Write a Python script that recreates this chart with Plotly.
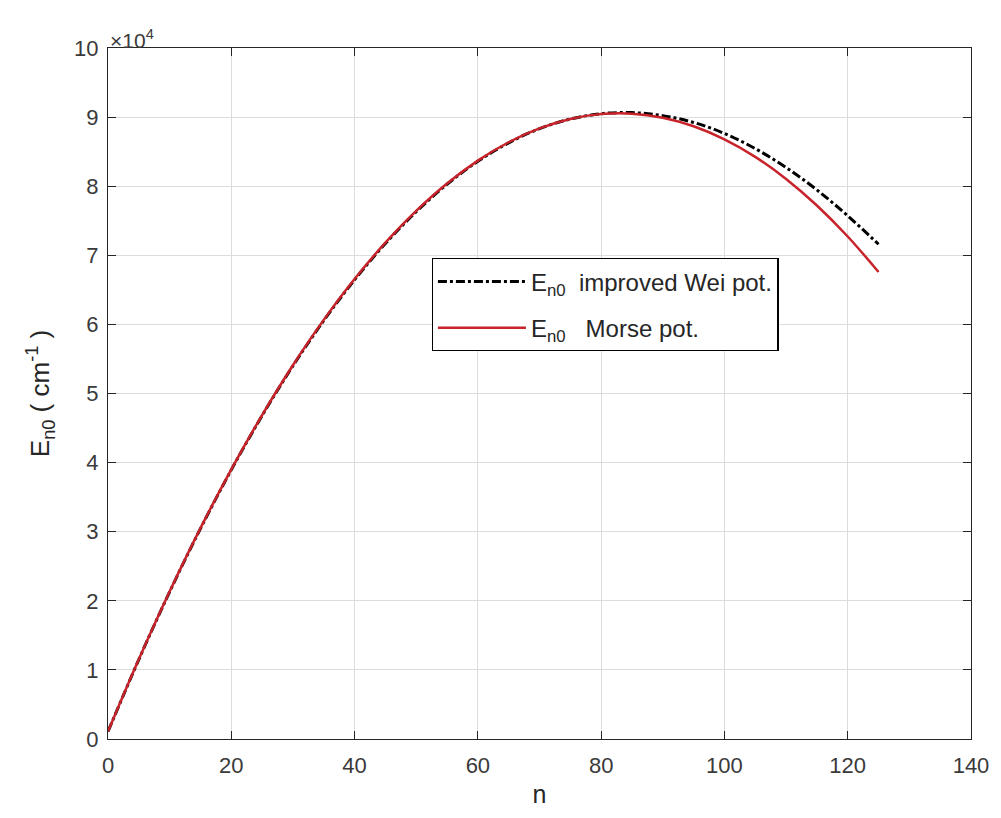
import plotly.graph_objects as go

# Quantum number n
n_vals = [0, 5, 10, 15, 20, 25, 30, 35, 40, 45, 50, 55, 60, 65, 70, 75, 80, 85,
          90, 95, 100, 105, 110, 115, 120, 125]

# Energies (cm^-1)
E_wei = [1082, 11500, 21300, 30450, 38950, 46800, 54000, 60550, 66450, 71700,
         76300, 80280, 83600, 86280, 88320, 89720, 90490, 90650, 90210, 89220,
         87630, 85440, 82700, 79460, 75720, 71600]
E_morse = [1082, 11542, 21352, 30512, 39022, 46882, 54092, 60652, 66562, 71822,
           76432, 80392, 83702, 86362, 88372, 89732, 90442, 90502, 89912, 88672,
           86782, 84242, 81052, 77212, 72722, 67582]

x_ticks = [0, 20, 40, 60, 80, 100, 120, 140]
y_ticks = [0, 10000, 20000, 30000, 40000, 50000, 60000, 70000, 80000, 90000, 100000]
y_ticktext = ["0", "1", "2", "3", "4", "5", "6", "7", "8", "9", "10"]

font_family = "Liberation Sans, Arial, Helvetica, sans-serif"
axis_col = "#262626"

fig = go.Figure()
fig.add_trace(go.Scatter(
    x=n_vals, y=E_wei, mode="lines", line_shape="spline",
    name="E<sub>n0</sub>  improved Wei pot.", legendgroup="wei",
    line=dict(color="black", width=3, dash="dashdot")))
fig.add_trace(go.Scatter(
    x=n_vals, y=E_morse, mode="lines", line_shape="spline",
    name="E<sub>n0</sub>   Morse pot.", legendgroup="morse",
    line=dict(color="#c8232b", width=2.5)))

axis_common = dict(
    showline=True, linecolor=axis_col, linewidth=1.4, mirror="ticks",
    ticks="inside", ticklen=8, tickcolor=axis_col, tickwidth=1.3,
    showgrid=True, gridcolor="#dcdcdc", gridwidth=1, zeroline=False,
    tickfont=dict(family=font_family, size=22, color="#3a3a3a"),
)

fig.update_xaxes(range=[0, 140], tickvals=x_ticks, ticklabelstandoff=6,
                 title=dict(text="n", font=dict(family=font_family, size=25, color="#262626"), standoff=8),
                 **axis_common)
fig.update_yaxes(range=[0, 100000], tickvals=y_ticks, ticktext=y_ticktext, ticklabelstandoff=4,
                 title=dict(text="E<sub>n0</sub> ( cm<sup>-1</sup> )",
                            font=dict(family=font_family, size=26, color="#262626"), standoff=16),
                 **axis_common)

fig.add_annotation(xref="paper", yref="paper", x=0.0, y=1.0, xanchor="left", yanchor="bottom",
                   text="\u00d710<sup>4</sup>", showarrow=False, yshift=-6, xshift=0,
                   font=dict(family=font_family, size=21, color="#3a3a3a"))

fig.update_layout(
    width=993, height=810,
    margin=dict(l=100, r=24, t=40, b=79),
    paper_bgcolor="white", plot_bgcolor="white",
    showlegend=True,
    legend=dict(x=0.375, y=0.696, xanchor="left", yanchor="top",
                bordercolor="black", borderwidth=1.3, bgcolor="white",
                itemwidth=88, tracegroupgap=12,
                font=dict(family=font_family, size=24, color="#262626")),
)

fig.write_html("out.html")
